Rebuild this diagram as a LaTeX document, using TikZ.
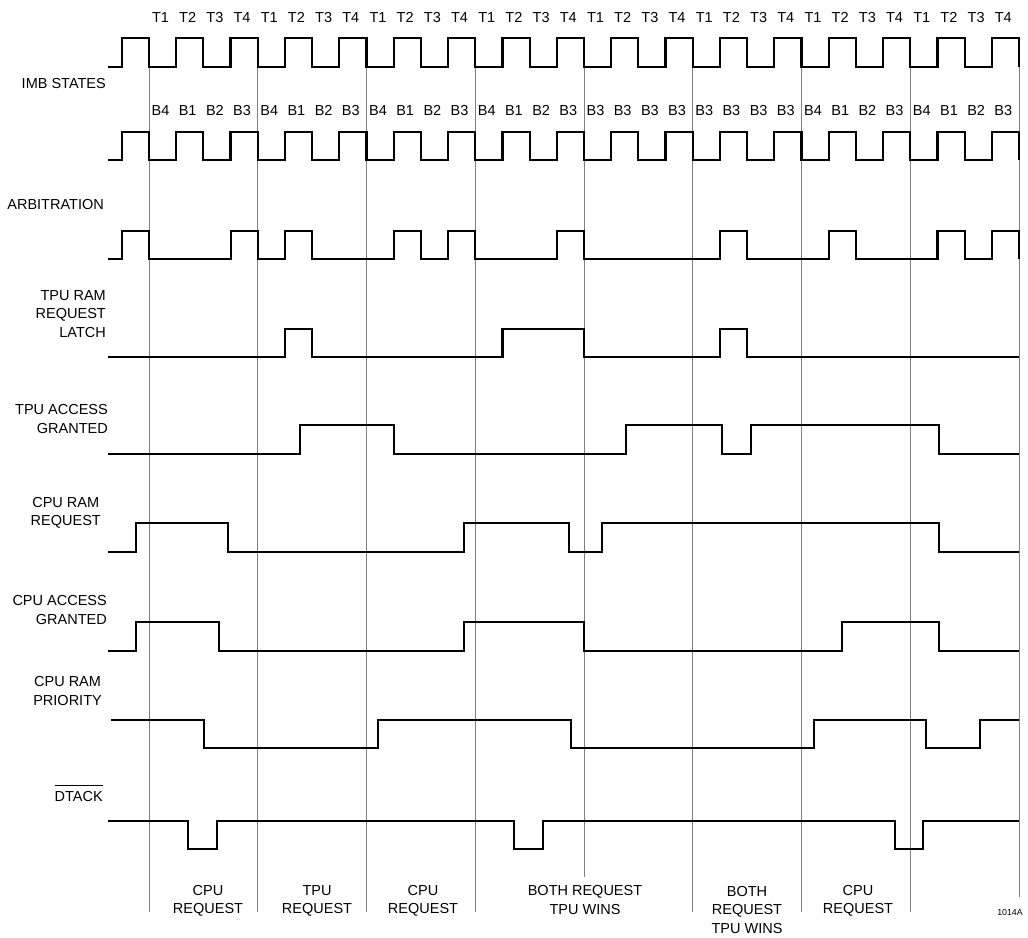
\documentclass[tikz,border=0pt]{standalone}
\usepackage{fontspec}
\setmainfont{Liberation Sans}
\newcommand\clkrow[2]{\draw[wave] (108,#1) foreach \k in {0,...,16} { -- ({149+(2*\k-1)*27.1875},#1) -- ({149+(2*\k-1)*27.1875},#2) -- ({149+2*\k*27.1875},#2) -- ({149+2*\k*27.1875},#1) };}
\newcommand\wvtail[5]{\draw[wave] (#3,#1) foreach \a/\b in {#4} { -- (\a,#1) -- (\a,#2) -- (\b,#2) -- (\b,#1) } -- (#5,#1);}
\newcommand\wvnotail[4]{\draw[wave] (#3,#1) foreach \a/\b in {#4} { -- (\a,#1) -- (\a,#2) -- (\b,#2) -- (\b,#1) };}
\begin{document}
\begin{tikzpicture}[x=1pt,y=-1pt,
  wave/.style={line width=2.2pt, line join=miter, black},
  gridln/.style={line width=0.9pt, black!50},
  lbl/.style={font=\fontsize{14.5}{18.5}\selectfont, inner sep=0pt, align=right, anchor=east},
  sig/.style={font=\fontsize{14.5}{17}\selectfont, inner sep=0pt, text height=10.4pt, text depth=0pt},
  bot/.style={font=\fontsize{14.5}{18.5}\selectfont, inner sep=0pt, align=center}]
\useasboundingbox (0,0) rectangle (1028,937);
% grid lines
\foreach \k/\e in {0/912,1/912,2/912,3/912,4/877,5/912,6/912,7/912,8/897}
  \draw[gridln] ({149+108.75*\k},66.7) -- ({149+108.75*\k},\e);
% T and B state labels
\foreach \n in {0,...,31} {
  \pgfmathtruncatemacro\tt{mod(\n,4)+1}
  \node[sig] (t\n) at ({149+27.1875*\n+11.5},17) {T\tt};
}
\foreach \lab [count=\n from 0] in {B4,B1,B2,B3,B4,B1,B2,B3,B4,B1,B2,B3,B4,B1,B2,B3,B3,B3,B3,B3,B3,B3,B3,B3,B4,B1,B2,B3,B4,B1,B2,B3}
  \node[sig] (b\n) at ({149+27.1875*\n+11.5},110) {\lab};
% clocks
\clkrow{66.7}{38.3}
\clkrow{160}{131.7}
% arbitration
\wvnotail{259}{230.7}{108}{122/149,230.6/257.75,284.9/312.1,393.7/420.9,448.1/475.25,556.8/584,720/747.1,828.7/855.9,937.4/964.6,991.8/1019}
% TPU RAM request latch
\wvtail{357}{328.7}{108}{284.9/312.1,502.4/584,720/747.1}{1019}
% TPU access granted
\wvtail{453.7}{425.3}{108}{300/394,626/722,751/939}{1019}
% CPU RAM request
\wvtail{552}{523}{108}{136/228,464/569,602/939}{1019}
% CPU access granted
\wvtail{650.7}{622.3}{108}{136/219,464/584,842/939}{1019}
% CPU RAM priority
\wvtail{720}{748.3}{111}{204/378,571/814,926/980}{1019}
% DTACK
\wvtail{820.7}{849.3}{108}{188/217,514/543,895/923}{1019}
% signal names
\node[lbl] (imb) at (106,84) {IMB STATES};
\node[lbl] (arb) at (104,205) {ARBITRATION};
\node[lbl] (latch) at (106,314) {TPU RAM\\REQUEST\\LATCH};
\node[lbl] (tpug) at (108,419) {TPU ACCESS\\GRANTED};
\node[lbl, align=center] (cpur) at (101,513) {CPU RAM\\REQUEST};
\node[lbl] (cpug) at (107,610) {CPU ACCESS\\GRANTED};
\node[lbl, align=center] (prio) at (102,691) {CPU RAM\\PRIORITY};
\node[lbl] (dt) at (103,796) {DTACK};
\draw[line width=0.8pt] ([yshift=5pt]dt.north west) -- ([yshift=5pt]dt.north east);
% bottom annotations
\node[bot] (q1) at (208,901) {CPU\\REQUEST};
\node[bot] (q2) at (317,901) {TPU\\REQUEST};
\node[bot] (q3) at (423,901) {CPU\\REQUEST};
\node[bot] (q4) at (585,900) {BOTH REQUEST\\TPU WINS};
\node[bot] (q5) at (747,909.5) {BOTH\\REQUEST\\TPU WINS};
\node[bot] (q6) at (858,901) {CPU\\REQUEST};
\node[font=\fontsize{8.8}{10}\selectfont, inner sep=0pt] (fig) at (1010,912) {1014A};
\end{tikzpicture}
\end{document}
